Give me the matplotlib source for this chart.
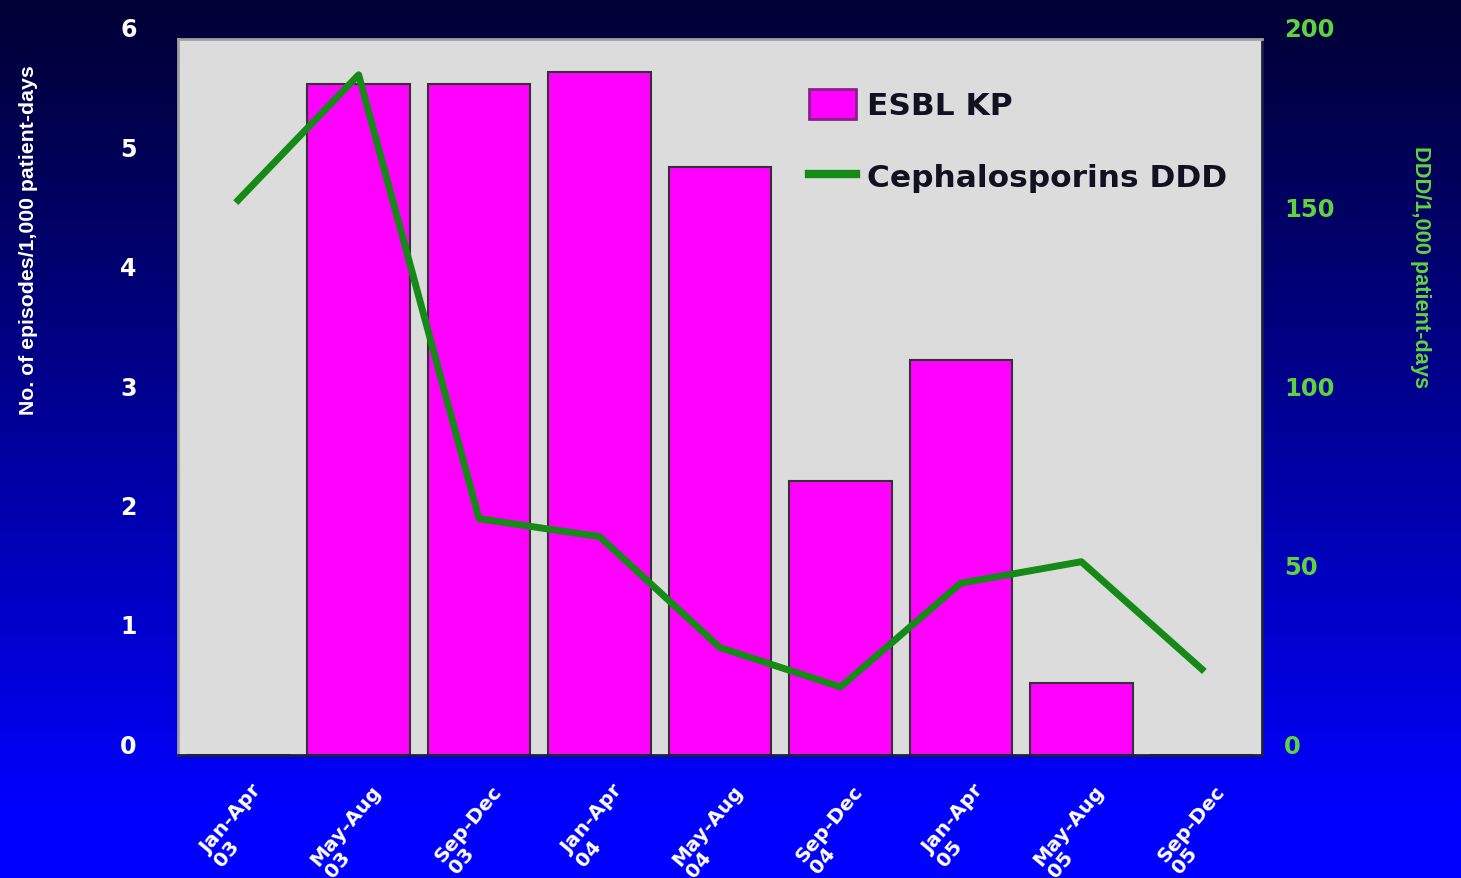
import numpy as np
import matplotlib
matplotlib.use("Agg")
import matplotlib.pyplot as plt
from matplotlib.lines import Line2D
from matplotlib.patches import Patch
from matplotlib.transforms import ScaledTranslation

categories = ["Jan-Apr\n03", "May-Aug\n03", "Sep-Dec\n03",
              "Jan-Apr\n04", "May-Aug\n04", "Sep-Dec\n04",
              "Jan-Apr\n05", "May-Aug\n05", "Sep-Dec\n05"]
esbl_kp = [0.0, 5.62, 5.62, 5.72, 4.93, 2.30, 3.31, 0.60, 0.0]
ceph_ddd = [155, 190, 66, 61, 30, 19, 48, 54, 24]
left_ticks = [0, 1, 2, 3, 4, 5, 6]
right_ticks = [0, 50, 100, 150, 200]

plt.rcParams['font.family'] = ['DejaVu Sans']

fig = plt.figure(figsize=(14.61, 8.79), dpi=100)

# gradient background
bg = fig.add_axes([0, 0, 1, 1], zorder=-10)
t = np.linspace(0, 1, 256)[:, None]
top = np.array([0.0, 0.0, 0.21])
bot = np.array([0.0, 0.0, 1.0])
g = np.clip(t * 1.08, 0, 1) ** 1.1
img = top[None, None, :] * (1 - g[..., None]) + bot[None, None, :] * g[..., None]
img = np.repeat(img, 2, axis=1)
bg.imshow(img, aspect='auto', extent=[0, 1, 0, 1], origin='upper')
bg.set_axis_off()

ax = fig.add_axes([0.1218, 0.1399, 0.7420, 0.8146])
ax.set_facecolor('#dcdcdc')
x = np.arange(len(categories))
ax.bar(x, esbl_kp, width=0.85, color='#ff00ff', edgecolor='#333333', linewidth=1.5, zorder=2)
ax.set_xlim(-0.5, len(categories) - 0.5)
ax.set_ylim(0, 6)
ax.set_yticks(left_ticks)
ax.set_yticklabels([str(v) for v in left_ticks])
ax.tick_params(axis='y', length=0, pad=39, colors='white', labelsize=17)
up = ScaledTranslation(0.13, 0.12, fig.dpi_scale_trans)
for lab in ax.get_yticklabels():
    lab.set_fontweight('bold')
    lab.set_transform(lab.get_transform() + up)
ax.set_xticks(x)
ax.set_xticklabels(categories, rotation=50, ha='right', va='top',
                   rotation_mode='anchor', color='white', fontsize=14.5,
                   fontweight='bold', linespacing=1.0, multialignment='left')
ax.tick_params(axis='x', length=0, pad=20)
right_shift = ScaledTranslation(0.12, 0.02, fig.dpi_scale_trans)
for lab in ax.get_xticklabels():
    lab.set_transform(lab.get_transform() + right_shift)
ax.set_ylabel("No. of episodes/1,000 patient-days", color='white',
              fontsize=15.3, fontweight='bold',
              family=['Liberation Sans', 'DejaVu Sans'])
ax.yaxis.set_label_coords(-0.129, 0.72)
for s in ['top', 'left']:
    ax.spines[s].set_color('#a0a0a0')
    ax.spines[s].set_linewidth(2)
ax.spines['bottom'].set_color('#202040')
ax.spines['bottom'].set_linewidth(2)
ax.spines['right'].set_color('#202040')
ax.spines['right'].set_linewidth(2)

ax2 = ax.twinx()
ax2.plot(x, ceph_ddd, color='#168a16', linewidth=5, zorder=3)
ax2.set_ylim(0, 200)
ax2.set_yticks(right_ticks)
ax2.set_yticklabels([str(v) for v in right_ticks])
ax2.tick_params(axis='y', length=0, pad=16, colors='#5fd33f', labelsize=17.5)
up2 = ScaledTranslation(0, 0.12, fig.dpi_scale_trans)
for lab in ax2.get_yticklabels():
    lab.set_fontweight('bold')
    lab.set_transform(lab.get_transform() + up2)
ax2.set_ylabel("DDD/1,000 patient-days", color='#5fd33f', fontsize=15.7,
               fontweight='bold', rotation=270, va='center',
               family=['Liberation Sans', 'DejaVu Sans'])
ax2.yaxis.set_label_coords(1.146, 0.683)
for s in ax2.spines.values():
    s.set_visible(False)

handles = [Patch(facecolor='#ff00ff', edgecolor='#882288', linewidth=2),
           Line2D([0], [0], color='#168a16', linewidth=6)]
leg = ax2.legend(handles, ["ESBL KP", "Cephalosporins DDD"],
                 loc='upper right', bbox_to_anchor=(0.994, 0.97),
                 frameon=False, prop={'weight': 'bold', 'size': 22.5},
                 handlelength=1.5, handleheight=1.1, labelspacing=1.3,
                 handletextpad=0.35)
for txt in leg.get_texts():
    txt.set_color('#111122')

fig.savefig("out.png", dpi=100)
